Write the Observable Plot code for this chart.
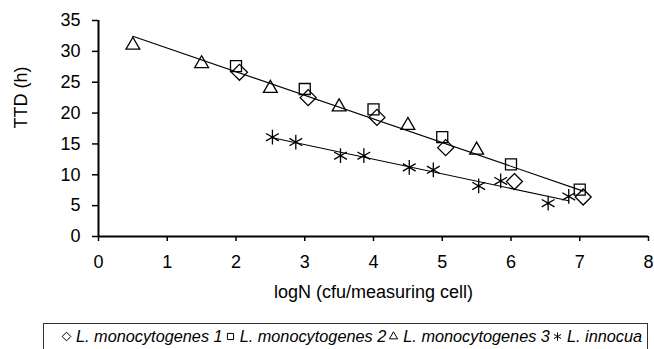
<!DOCTYPE html>
<html>
<head>
<meta charset="utf-8">
<script src="https://cdn.jsdelivr.net/npm/d3@7"></script>
<script src="https://cdn.jsdelivr.net/npm/@observablehq/plot@0.6"></script>
<style>
  html, body { margin: 0; padding: 0; background: #fff; }
  body { width: 654px; height: 349px; overflow: hidden; position: relative; font-family: "Liberation Sans", Arial, sans-serif; }
  #chart { position: absolute; left: 0; top: 0; }
  #legend { position: absolute; left: 43px; top: 323px; width: 605px; height: 40px; border: 1px solid #333; box-sizing: border-box;
    font-style: italic; font-size: 16.3px; line-height: 20px; padding: 2px 0 0 15px; white-space: nowrap; color: #000; overflow: hidden; }
  #legend .item { display: inline; }
  #legend svg { vertical-align: baseline; margin-right: 4px; margin-left: 2px; }
</style>
</head>
<body>
<div id="chart"></div>
<div id="legend"></div>
<script>
// ---- data ----
const xTicks = [0, 1, 2, 3, 4, 5, 6, 7, 8];
const yTicks = [0, 5, 10, 15, 20, 25, 30, 35];
const xLabel = "logN (cfu/measuring cell)";
const yLabel = "TTD (h)";

const mono1X = [2.05, 3.05, 4.05, 5.05, 6.05, 7.05];
const mono1Y = [26.6, 22.5, 19.3, 14.4, 8.9, 6.4];

const mono2X = [2.0, 3.0, 4.0, 5.0, 6.0, 7.0];
const mono2Y = [27.6, 23.9, 20.6, 16.1, 11.7, 7.6];

const mono3X = [0.5, 1.5, 2.5, 3.5, 4.5, 5.5];
const mono3Y = [31.0, 28.0, 24.0, 21.0, 18.0, 14.0];

const innocuaX = [2.53, 2.87, 3.52, 3.86, 4.52, 4.87, 5.53, 5.85, 6.54, 6.84];
const innocuaY = [16.1, 15.3, 13.1, 13.1, 11.2, 10.8, 8.2, 9.0, 5.4, 6.5];

const seriesNames = ["L. monocytogenes 1", "L. monocytogenes 2", "L. monocytogenes 3", "L. innocua"];
const seriesSymbols = ["diamond2", "square2", "triangle2", "asterisk"];

// ---- build tables ----
const toRows = (xs, ys, s) => xs.map((x, i) => ({x, y: ys[i], s}));
const mono1 = toRows(mono1X, mono1Y, seriesNames[0]);
const mono2 = toRows(mono2X, mono2Y, seriesNames[1]);
const mono3 = toRows(mono3X, mono3Y, seriesNames[2]);
const innocua = toRows(innocuaX, innocuaY, seriesNames[3]);
const monoAll = [...mono1, ...mono2, ...mono3];

const dotStyle = {x: "x", y: "y", stroke: "black", fill: "none", strokeWidth: 1.3};

const plot = Plot.plot({
  width: 654,
  height: 322,
  marginLeft: 98,
  marginRight: 6,
  marginTop: 20,
  marginBottom: 86,
  style: {fontFamily: "'Liberation Sans', Arial, sans-serif", fontSize: "18px", color: "black", background: "white"},
  x: {domain: [0, 8]},
  y: {domain: [0, 35]},
  marks: [
    Plot.axisX({ticks: xTicks, tickSize: 5, tickPadding: 14, label: null, strokeWidth: 1.5}),
    Plot.axisY({ticks: yTicks, tickSize: 6, tickPadding: 12, label: null, strokeWidth: 1.5}),
    Plot.text([xLabel], {text: d => d, frameAnchor: "bottom", dy: 61, fill: "black", fontSize: 18}),
    Plot.text([yLabel], {text: d => d, frameAnchor: "left", dx: -77, rotate: -90, fill: "black", fontSize: 18}),
    Plot.ruleX([0], {stroke: "black", strokeWidth: 2}),
    Plot.ruleY([0], {stroke: "black", strokeWidth: 2}),
    Plot.linearRegressionY(monoAll, {x: "x", y: "y", ci: 0, stroke: "black", strokeWidth: 1.1}),
    Plot.linearRegressionY(innocua, {x: "x", y: "y", ci: 0, stroke: "black", strokeWidth: 1.1}),
    Plot.dot(mono1, {...dotStyle, symbol: seriesSymbols[0], r: 7.2}),
    Plot.dot(mono2, {...dotStyle, symbol: seriesSymbols[1], r: 7.0}),
    Plot.dot(mono3, {...dotStyle, symbol: seriesSymbols[2], r: 6.6}),
    Plot.dot(innocua, {...dotStyle, symbol: seriesSymbols[3], r: 7.0})
  ]
});
document.getElementById("chart").appendChild(plot);

// ---- legend ----
const symMap = {diamond2: d3.symbolDiamond2, square2: d3.symbolSquare2, triangle2: d3.symbolTriangle2, asterisk: d3.symbolAsterisk};
const legend = d3.select("#legend");
seriesNames.forEach((name, i) => {
  const item = legend.append("span").attr("class", "item");
  const svg = item.append("svg").attr("width", 11).attr("height", 11);
  svg.append("path")
    .attr("transform", "translate(5.5,5.5)")
    .attr("d", d3.symbol(symMap[seriesSymbols[i]], 48)())
    .attr("fill", "none").attr("stroke", "black").attr("stroke-width", 1);
  item.append("span").text(name);
});
</script>
</body>
</html>
